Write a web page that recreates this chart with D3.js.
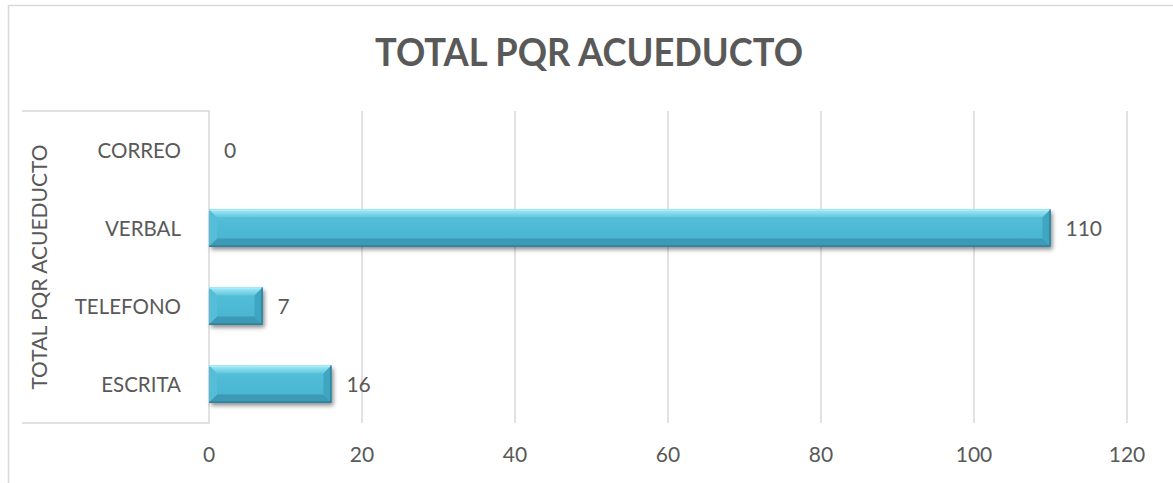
<!DOCTYPE html>
<html><head><meta charset="utf-8">
<script src="https://cdn.jsdelivr.net/npm/d3@7"></script>
<style>
html,body{margin:0;padding:0;background:#fff;}
svg{display:block;}
text{font-family:Lato, "Open Sans", sans-serif;fill:#595959;}
</style></head>
<body><svg id="c" width="1173" height="483"></svg>
<script>
const categories = ["ESCRITA","TELEFONO","VERBAL","CORREO"];
const values = [16, 7, 110, 0];
const xTicks = [0,20,40,60,80,100,120];
const chartTitle = "TOTAL PQR ACUEDUCTO";
const axisTitle = "TOTAL PQR ACUEDUCTO";

const svg = d3.select("#c");
const plot = {left:209, right:1127, top:111, bottom:423};

const x = d3.scaleLinear().domain([0,120]).range([plot.left, plot.right]);
const y = d3.scaleBand().domain(categories.slice().reverse()).range([plot.top, plot.bottom]).paddingInner(0.525).paddingOuter(0.2625);

const defs = svg.append("defs");
const f = defs.append("filter").attr("id","sh").attr("x","-5%").attr("y","-30%").attr("width","115%").attr("height","180%");
f.append("feDropShadow").attr("dx",2).attr("dy",3).attr("stdDeviation",2.2).attr("flood-color","#000").attr("flood-opacity",0.45);
const gTop = defs.append("linearGradient").attr("id","gt").attr("x1",0).attr("y1",0).attr("x2",0).attr("y2",1);
gTop.append("stop").attr("offset",0).attr("stop-color","#a6ecf8");
gTop.append("stop").attr("offset",1).attr("stop-color","#5fc6de");
const gFace = defs.append("linearGradient").attr("id","gf").attr("x1",0).attr("y1",0).attr("x2",0).attr("y2",1);
gFace.append("stop").attr("offset",0).attr("stop-color","#56c0da");
gFace.append("stop").attr("offset",1).attr("stop-color","#47b3cf");

// outer border
svg.append("rect").attr("x",8.5).attr("y",5.5).attr("width",1200).attr("height",520)
  .attr("fill","#fff").attr("stroke","#d9d9d9").attr("stroke-width",1.5);

// title
svg.append("text").attr("x",589).attr("y",66).attr("text-anchor","middle")
  .attr("textLength",428).attr("lengthAdjust","spacingAndGlyphs")
  .style("font-size","38px").style("font-weight","bold").text(chartTitle);

// gridlines
svg.append("g").selectAll("line").data(xTicks.filter(d=>d>0)).join("line")
  .attr("x1",d=>x(d)).attr("x2",d=>x(d)).attr("y1",plot.top).attr("y2",plot.bottom)
  .attr("stroke","#d9d9d9").attr("stroke-width",1.5);

// category box
svg.append("path").attr("d",`M22,${plot.top}H${plot.left}V${plot.bottom}H22`)
  .attr("stroke","#d9d9d9").attr("stroke-width",1.5).attr("fill","none");

// x tick labels
svg.append("g").selectAll("text").data(xTicks).join("text")
  .attr("x",d=>x(d)).attr("y",462).attr("text-anchor","middle")
  .style("font-size","21px").text(d=>d);

// category labels
svg.append("g").selectAll("text").data(categories).join("text")
  .attr("x",181).attr("y",d=>y(d)+y.bandwidth()/2+7.5).attr("text-anchor","end")
  .style("font-size","20.5px").text(d=>d);

// axis title
svg.append("text").attr("transform",`translate(47,${(plot.top+plot.bottom)/2}) rotate(-90)`)
  .attr("text-anchor","middle").style("font-size","21px").text(axisTitle);

// bars
const bars = svg.append("g");
categories.forEach((c,i)=>{
  const v = values[i];
  if (v<=0) return;
  const x0 = x(0), x1 = x(v), y0 = y(c), y1 = y(c)+y.bandwidth();
  const b = Math.min(8, (x1-x0)/2, (y1-y0)/2);
  const g = bars.append("g");
  g.append("rect").attr("x",x0).attr("y",y0).attr("width",x1-x0).attr("height",y1-y0)
    .attr("fill","#47b3cf").attr("filter","url(#sh)");
  g.append("rect").attr("x",x0).attr("y",y0).attr("width",x1-x0).attr("height",y1-y0).attr("fill","url(#gf)");
  g.append("polygon").attr("points",`${x0},${y0} ${x1},${y0} ${x1-b},${y0+b} ${x0+b},${y0+b}`).attr("fill","url(#gt)");
  g.append("polygon").attr("points",`${x0},${y1} ${x1},${y1} ${x1-b},${y1-b} ${x0+b},${y1-b}`).attr("fill","#3c9ab6");
  g.append("polygon").attr("points",`${x1},${y0} ${x1},${y1} ${x1-b},${y1-b} ${x1-b},${y0+b}`).attr("fill","#3fa6c2");
  g.append("polygon").attr("points",`${x0},${y0} ${x0},${y1} ${x0+b},${y1-b} ${x0+b},${y0+b}`).attr("fill","#55bdd7");
  g.append("line").attr("x1",x0).attr("x2",x1).attr("y1",y0+0.5).attr("y2",y0+0.5).attr("stroke","#b8f2fb").attr("stroke-width",1);
  g.append("path").attr("d",`M${x0},${y1-0.5}H${x1-0.5}V${y0}`).attr("fill","none").attr("stroke","#2c7690").attr("stroke-width",1.2);
});

// data labels
svg.append("g").selectAll("text").data(categories).join("text")
  .attr("x",(d,i)=>x(values[i])+15).attr("y",d=>y(d)+y.bandwidth()/2+7.5)
  .style("font-size","21px").text((d,i)=>values[i]);
</script></body></html>
